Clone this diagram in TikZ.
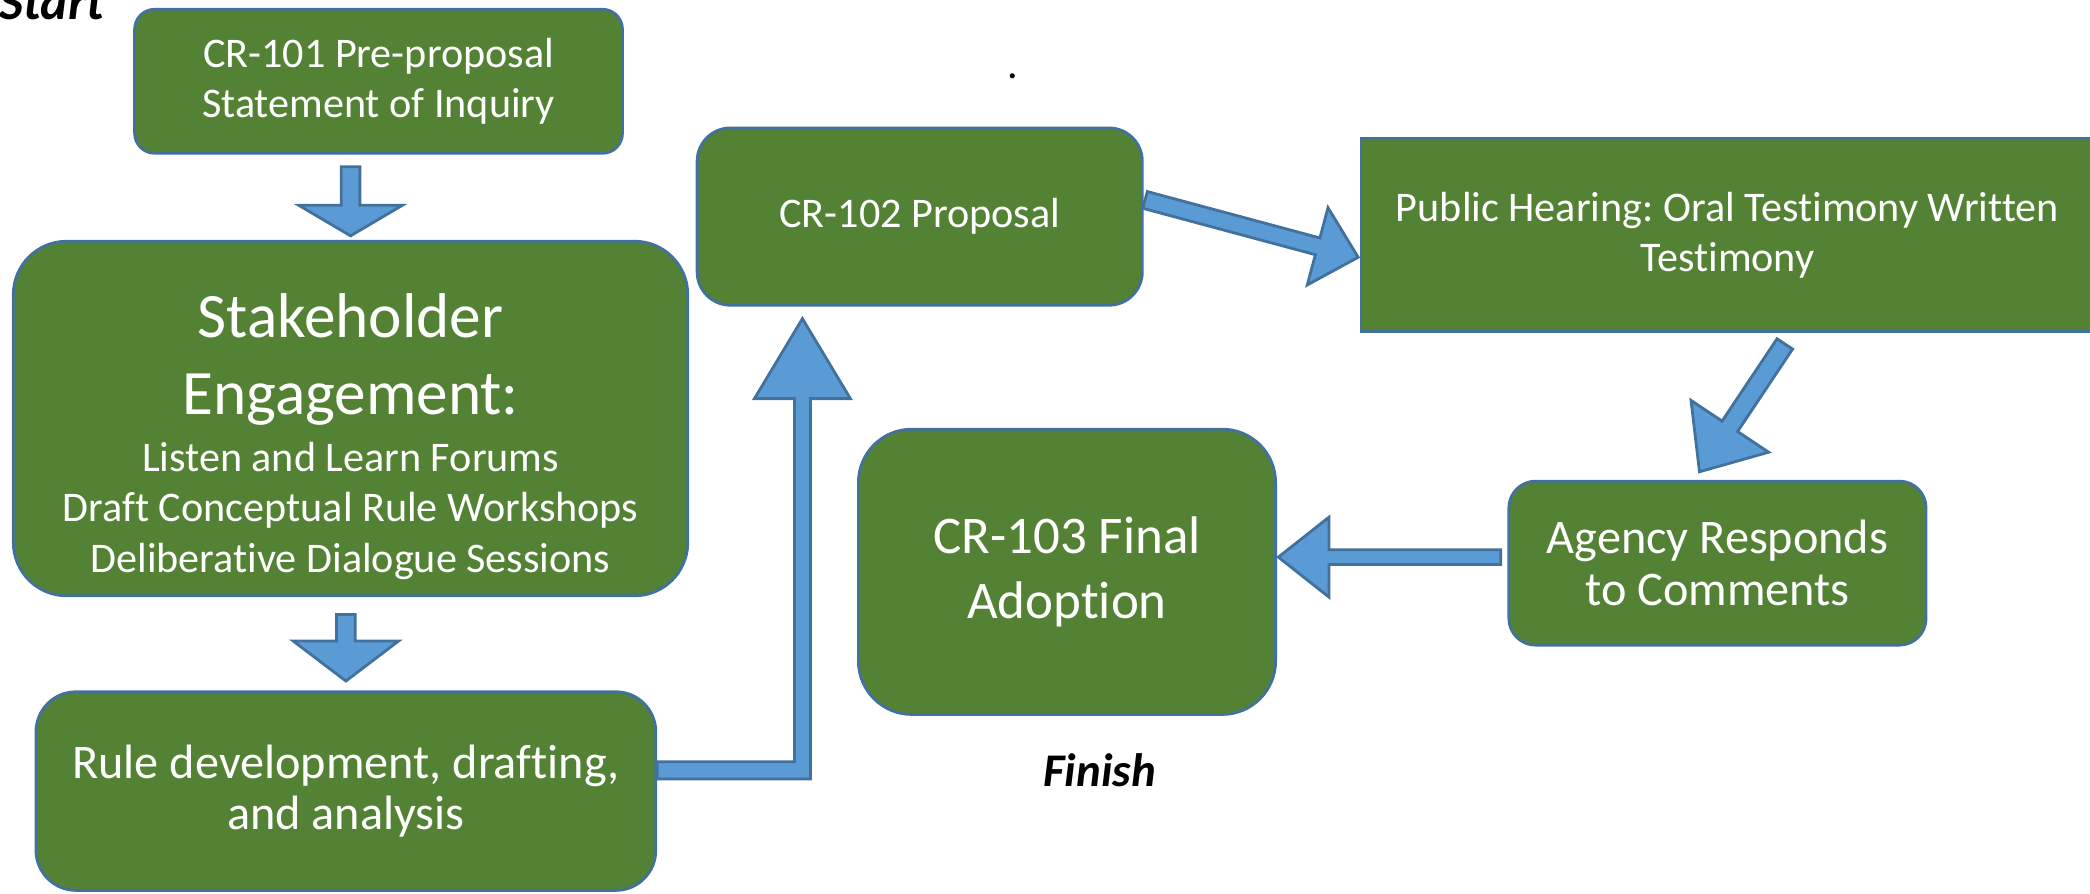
\documentclass[tikz,border=0pt]{standalone}
\usepackage{fontspec}
\setmainfont{Carlito}[Ligatures={NoCommon}]
\frenchspacing
\usetikzlibrary{calc}

\definecolor{boxgreen}{RGB}{84,130,53}
\definecolor{edgeblue}{RGB}{65,113,156}
\definecolor{arrowblue}{RGB}{91,155,213}

\tikzset{
	stagebox/.style={draw=edgeblue, fill=boxgreen, line width=0.6pt, text=white, align=center, inner sep=0pt, font=\fontsize{9}{10.8}\selectfont},
	fatarrow/.style={draw=edgeblue, fill=arrowblue, line width=0.6pt, line join=miter},
	endlabel/.style={inner sep=0pt, font=\fontsize{#1}{13}\selectfont\bfseries\itshape}
}

% #1 start, #2 tip, #3 half shaft, #4 head length, #5 half head
\newcommand{\blockarrow}[5]{%
	\coordinate (ba-c) at ($(#2)!#4!(#1)$);
	\draw[fatarrow] ($(#1)!#3!90:(#2)$) -- ($(ba-c)!#3!90:(#2)$) -- ($(ba-c)!#5!90:(#2)$) -- (#2)
		-- ($(ba-c)!#5!-90:(#2)$) -- ($(ba-c)!#3!-90:(#2)$) -- ($(#1)!#3!-90:(#2)$) -- cycle;
}

\begin{document}
\begin{tikzpicture}
	\useasboundingbox (0,0) rectangle (15.68,6.70);
	
	\node[stagebox, minimum width=3.66cm, minimum height=1.08cm, rounded corners=0.15cm] (cr101) at (2.84,6.09) {CR-101 Pre-proposal\\Statement of Inquiry};
	\node[stagebox, minimum width=5.06cm, minimum height=2.66cm, rounded corners=0.4cm, text width=4.9cm, align=flush center] (stake) at (2.63,3.56)
		{\vskip0.02cm{\fontsize{13.5}{16.5}\selectfont Stakeholder\\Engagement:\par}\vskip1.2pt
		Listen and Learn Forums\\Draft Conceptual Rule Workshops\\Deliberative Dialogue Sessions};
	\node[stagebox, minimum width=4.65cm, minimum height=1.49cm, rounded corners=0.3cm, font=\fontsize{10.3}{10.8}\selectfont] (rule) at (2.595,0.765) {Rule development, drafting,\\and analysis};
	\node[stagebox, minimum width=3.34cm, minimum height=1.33cm, rounded corners=0.25cm] (cr102) at (6.90,5.075) {CR-102 Proposal};
	\node[stagebox, minimum width=5.50cm, minimum height=1.45cm] (ph) at (12.96,4.935) {Public Hearing: Oral Testimony Written\\Testimony};
	\node[stagebox, minimum width=3.13cm, minimum height=1.23cm, rounded corners=0.2cm, font=\fontsize{10.3}{11.1}\selectfont] (agency) at (12.885,2.475) {Agency Responds\\to Comments};
	\node[stagebox, minimum width=3.13cm, minimum height=2.14cm, rounded corners=0.4cm, font=\fontsize{11.3}{13.7}\selectfont] (cr103) at (8.005,2.41) {CR-103 Final\\Adoption};
	
	\node[endlabel=11, anchor=base west] (startlbl) at (-0.01,6.55) {Start};
	\node[endlabel=10, anchor=base] (finishlbl) at (8.25,0.80) {Finish};
	\node[font=\fontsize{9}{10.8}\selectfont, anchor=base, inner sep=0pt] (dotmark) at (7.595,6.11) {.};
	
	\coordinate (a1s) at ($(cr101.south -| stake.north)+(0,-0.09)$);
	\coordinate (a1t) at ($(stake.north)+(0,0.03)$);
	\blockarrow{a1s}{a1t}{0.07cm}{0.23cm}{0.39cm}
	\coordinate (a2s) at ($(stake.south -| rule.north)+(0,-0.13)$);
	\coordinate (a2t) at ($(rule.north)+(0,0.07)$);
	\blockarrow{a2s}{a2t}{0.07cm}{0.30cm}{0.395cm}
	\coordinate (a3s) at ($(cr102.east)+(0.01,0.125)$);
	\coordinate (a3t) at ($(ph.west)+(-0.01,-0.165)$);
	\blockarrow{a3s}{a3t}{0.065cm}{0.315cm}{0.30cm}
	\coordinate (a4s) at ($(ph.south)+(0.43,-0.08)$);
	\coordinate (a4t) at ($(agency.north)+(-0.135,0.06)$);
	\blockarrow{a4s}{a4t}{0.07cm}{0.41cm}{0.35cm}
	\coordinate (a5s) at ($(agency.west)+(-0.05,0.045)$);
	\coordinate (a5t) at ($(cr103.east)+(0.01,0.11)$);
	\blockarrow{a5s}{a5t}{0.055cm}{0.38cm}{0.30cm}
	
	\coordinate (a6s) at ($(rule.east)+(0,0.155)$);
	\coordinate (a6t) at ($(cr102.south)+(-0.88,-0.09)$);
	\coordinate (a6k) at (a6t |- a6s);
	\draw[fatarrow] ($(a6s)+(0,0.065)$) -- ($(a6k)+(-0.06,0.065)$) -- ($(a6t)+(-0.06,-0.60)$) -- ($(a6t)+(-0.36,-0.60)$) -- (a6t)
		-- ($(a6t)+(0.36,-0.60)$) -- ($(a6t)+(0.06,-0.60)$) -- ($(a6k)+(0.06,-0.065)$) -- ($(a6s)+(0,-0.065)$) -- cycle;
\end{tikzpicture}
\end{document}
